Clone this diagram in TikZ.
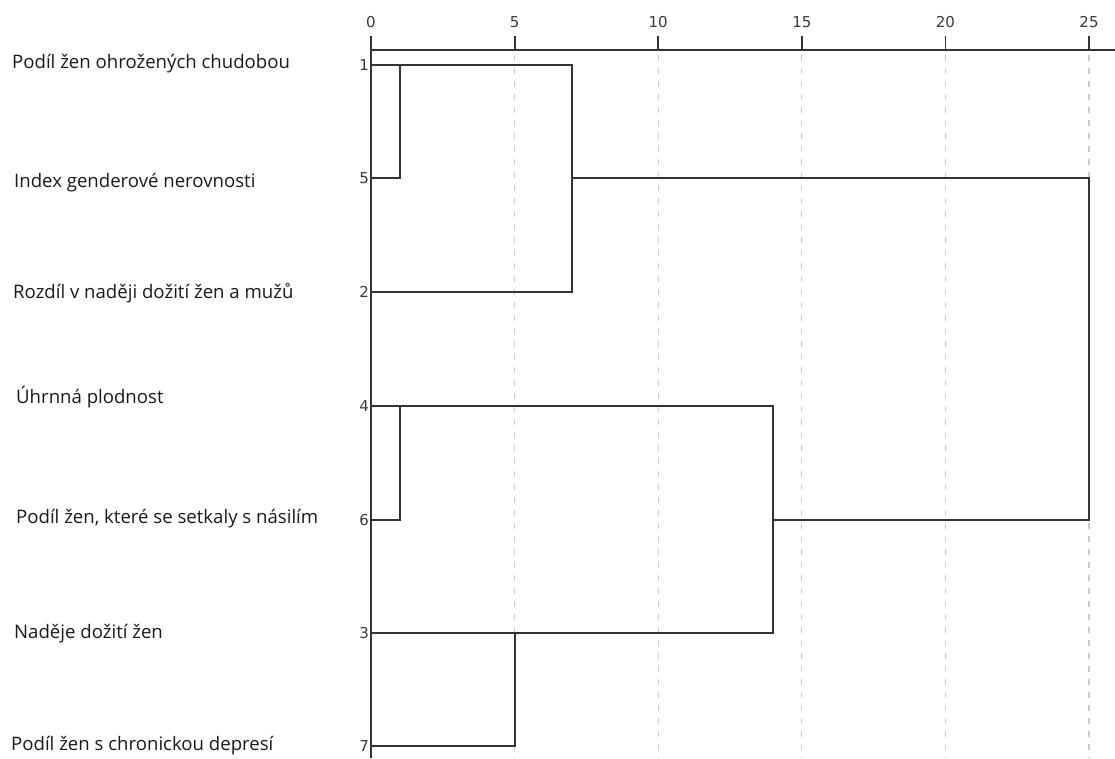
\documentclass[tikz,border=0pt]{standalone}
\usepackage{fontspec}
\setmainfont{Open Sans}
\newfontfamily\numfont{DejaVu Sans}
\usepackage{tikz,pgffor}
\usetikzlibrary{calc}
\usetikzlibrary{positioning}
\tikzstyle{varname}=[anchor=west, inner sep=0pt, text=black!90, font=\fontsize{18.6}{18.6}\selectfont]
\tikzstyle{leaf}=[anchor=east, inner xsep=2pt, inner ysep=0pt, text=black!78, font=\numfont\fontsize{15}{15}\selectfont]
\tikzstyle{scalenum}=[inner sep=0pt, text=black!78, font=\numfont\fontsize{15}{15}\selectfont]
\tikzstyle{link}=[draw=black!80, line width=1.8pt, line join=miter]
\tikzstyle{axisline}=[draw=black!80, line width=1.8pt]
\tikzstyle{gridline}=[draw=black!20, line width=1.3pt, dash pattern=on 6pt off 7pt]
\newcommand{\unitpx}{28.72}

\begin{document}
\begin{tikzpicture}[x=1pt, y=-1pt]
\useasboundingbox (0,0) rectangle (1115,758);

\foreach \v in {0,5,10,15,20,25}
{
\node[scalenum] (t\v) at ({371+\unitpx*\v},22) {\v};
\coordinate (k\v) at ({371+\unitpx*\v},36);
\draw[axisline] (k\v) -- ++(0,14);
}
\foreach \v in {5,10,15,20,25}
\draw[gridline] ($(k\v)+(0,19)$) -- ++(0,703);
\coordinate (axisend) at (1115,50);
\draw[axisline] (k0 |- axisend) -- (axisend);
\draw[axisline] (k0) -- ++(0,722);

\node[leaf] (n1) at (371,65)  {1};
\node[leaf] (n5) at (371,178) {5};
\node[leaf] (n2) at (371,292) {2};
\node[leaf] (n4) at (371,406) {4};
\node[leaf] (n6) at (371,520) {6};
\node[leaf] (n3) at (371,633) {3};
\node[leaf] (n7) at (371,746) {7};

\node[varname] (v1) at (12,64)  {Podíl žen ohrožených chudobou};
\node[varname] (v5) at (14,183) {Index genderové nerovnosti};
\node[varname] (v2) at (13,293) {Rozdíl v naději dožití žen a mužů};
\node[varname] (v4) at (16,397) {Úhrnná plodnost};
\node[varname] (v6) at (16,519) {Podíl žen, které se setkaly s násilím};
\node[varname] (v3) at (14,634) {Naděje dožití žen};
\node[varname] (v7) at (11,746) {Podíl žen s chronickou depresí};

\coordinate (a15)   at ({371+\unitpx*1},65);
\coordinate (a152)  at ({371+\unitpx*7},65);
\coordinate (b152)  at ({371+\unitpx*7},178);
\coordinate (a46)   at ({371+\unitpx*1},406);
\coordinate (a37)   at ({371+\unitpx*5},633);
\coordinate (a4637) at ({371+\unitpx*14},406);
\coordinate (b4637) at ({371+\unitpx*14},520);
\coordinate (root)  at ({371+\unitpx*25},520);

\draw[link] (n5.east) -| (a15);
\draw[link] (n1.east) -- (a152) |- (n2.east);
\draw[link] (n6.east) -| (a46);
\draw[link] (n7.east) -| (a37);
\draw[link] (n4.east) -- (a4637) |- (n3.east);
\draw[link] (b152) -| (root) -- (b4637);

\end{tikzpicture}
\end{document}
